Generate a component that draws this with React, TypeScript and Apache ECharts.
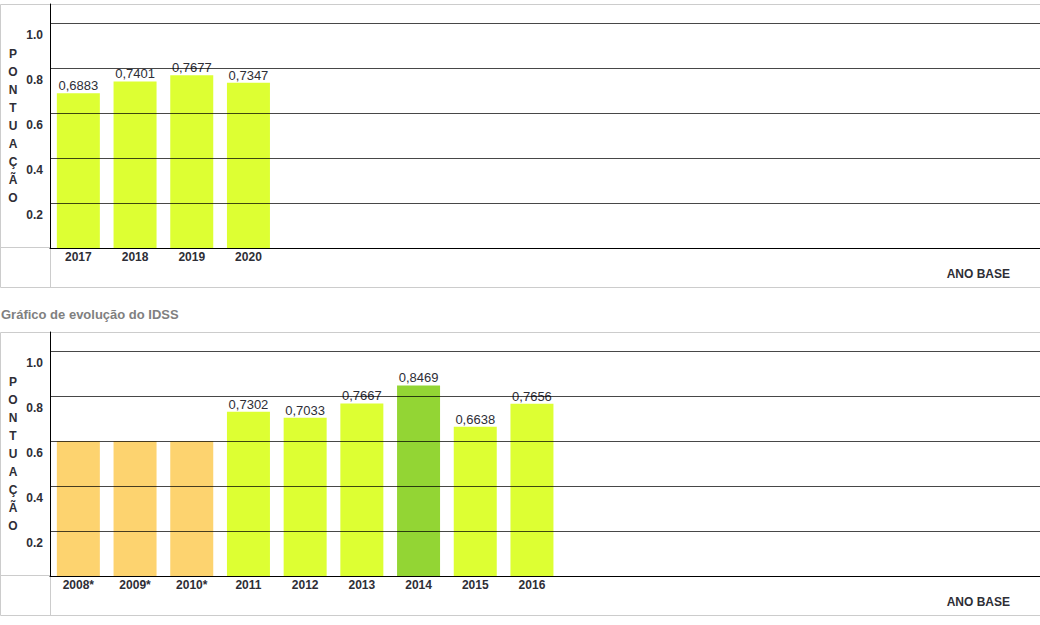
import React, { useEffect, useRef } from "react";
import * as echarts from "echarts";

const SLOTS = 18;
const topYears = ["2017", "2018", "2019", "2020"];
const topValues = [0.6883, 0.7401, 0.7677, 0.7347];
const topStatus = ["ok", "ok", "ok", "ok"];

const bottomYears = ["2008*", "2009*", "2010*", "2011", "2012", "2013", "2014", "2015", "2016"];
const bottomValues = [0.6, 0.6, 0.6, 0.7302, 0.7033, 0.7667, 0.8469, 0.6638, 0.7656];
const bottomStatus = ["na", "na", "na", "ok", "ok", "ok", "best", "ok", "ok"];

const yTicks = [0.2, 0.4, 0.6, 0.8, 1.0];

const statusColor: Record<string, string> = {
  na: "#FDD36F",
  ok: "#DDFF33",
  best: "#93D534",
};

const FONT = "'Liberation Sans', Arial, sans-serif";
const TEXT = "#2e2e36";
const BORDER = "#cccccc";

const pad = (arr: string[]) => {
  const out = arr.slice();
  while (out.length < SLOTS) out.push("");
  return out;
};

const PX_PER_UNIT = 225;
const GRID_H = 244;
const Y_MAX = GRID_H / PX_PER_UNIT;
const SLOT_W = 56.7;

export default function App() {
  const ref = useRef<HTMLDivElement>(null);

  useEffect(() => {
    if (!ref.current) return;
    const chart = echarts.init(ref.current, undefined, { renderer: "svg" });

    const tops = [4, 332];
    const grids = tops.map((t) => ({
      left: 50,
      top: t,
      width: SLOTS * SLOT_W,
      height: GRID_H,
      containLabel: false,
    }));

    const makeX = (cats: string[], gi: number) => ({
      type: "category",
      gridIndex: gi,
      data: pad(cats),
      axisLine: { show: true, lineStyle: { color: "#000", width: 1 } },
      axisTick: { show: false },
      axisLabel: {
        color: TEXT,
        fontFamily: FONT,
        fontWeight: "bold",
        fontSize: 12,
        margin: 3,
        interval: 0,
      },
      z: 4,
    });

    const makeY = (gi: number) => ({
      type: "value",
      gridIndex: gi,
      min: 0,
      max: Y_MAX,
      interval: 0.2,
      z: 3,
      axisLine: { show: true, lineStyle: { color: "#000", width: 1 } },
      axisTick: { show: false },
      axisLabel: {
        color: TEXT,
        fontFamily: FONT,
        fontWeight: "bold",
        fontSize: 12,
        margin: 7,
        verticalAlign: "top",
        padding: [6, 0, 0, 0],
        showMinLabel: false,
        showMaxLabel: false,
        formatter: (v: number) => {
          const hit = yTicks.find((t) => Math.abs(t - v) < 1e-6);
          return hit !== undefined ? hit.toFixed(1) : "";
        },
      },
      splitLine: {
        show: true,
        showMinLine: false,
        showMaxLine: false,
        lineStyle: { color: "rgba(0,0,0,0.72)", width: 1 },
      },
    });

    const makeSeries = (vals: number[], status: string[], gi: number) => ({
      type: "bar",
      xAxisIndex: gi,
      yAxisIndex: gi,
      barWidth: 43,
      z: 2,
      data: vals.map((v, i) => ({
        value: v,
        itemStyle: { color: statusColor[status[i]] },
        label: { show: status[i] !== "na" },
      })),
      label: {
        show: true,
        position: "top",
        distance: 1,
        color: TEXT,
        fontFamily: FONT,
        fontSize: 13,
        formatter: (p: any) => Number(p.value).toFixed(4).replace(".", ","),
      },
    });

    const graphics: any[] = [];
    tops.forEach((t) => {
      const bottom = t + GRID_H;
      graphics.push(
        {
          type: "rect",
          shape: { x: 0.5, y: t + 0.5, width: 1200, height: 283 },
          style: { fill: "none", stroke: BORDER, lineWidth: 1 },
          z: 1,
        },
        {
          type: "line",
          shape: { x1: 0, y1: bottom - 0.5, x2: 50, y2: bottom - 0.5 },
          style: { stroke: BORDER, lineWidth: 1 },
        },
        {
          type: "line",
          shape: { x1: 50.5, y1: bottom, x2: 50.5, y2: t + 283 },
          style: { stroke: BORDER, lineWidth: 1 },
        },
        {
          type: "text",
          x: 13,
          y: t + 41,
          style: {
            text: "P\nO\nN\nT\nU\nA\nÇ\nÃ\nO",
            font: `bold 12px ${FONT}`,
            fill: TEXT,
            align: "center",
            verticalAlign: "top",
            lineHeight: 18,
          },
        },
        {
          type: "text",
          x: 1010,
          y: t + 270,
          style: {
            text: "ANO BASE",
            font: `bold 12px ${FONT}`,
            fill: TEXT,
            align: "right",
            verticalAlign: "middle",
          },
        }
      );
    });
    graphics.push({
      type: "text",
      x: 1,
      y: 314,
      style: {
        text: "Gráfico de evolução do IDSS",
        font: `bold 13px ${FONT}`,
        fill: "#808080",
        align: "left",
        verticalAlign: "middle",
      },
    });

    chart.setOption({
      animation: false,
      backgroundColor: "#ffffff",
      grid: grids,
      xAxis: [makeX(topYears, 0), makeX(bottomYears, 1)],
      yAxis: [makeY(0), makeY(1)],
      series: [makeSeries(topValues, topStatus, 0), makeSeries(bottomValues, bottomStatus, 1)],
      graphic: graphics,
    });

    return () => chart.dispose();
  }, []);

  return (
    <div
      style={{
        position: "absolute",
        left: 0,
        top: 0,
        width: 1040,
        height: 625,
        overflow: "hidden",
        background: "#fff",
      }}
    >
      <div ref={ref} style={{ width: 1100, height: 625 }} />
    </div>
  );
}
